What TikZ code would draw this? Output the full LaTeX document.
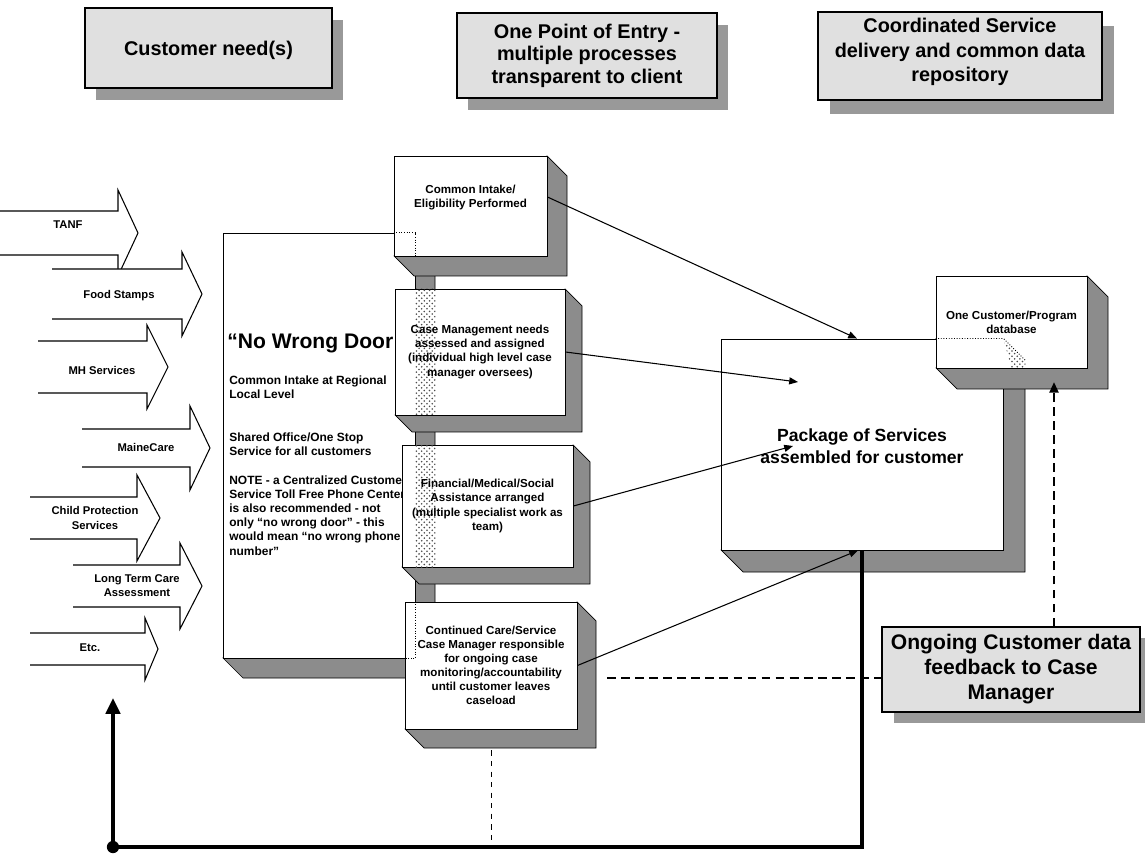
\documentclass[tikz,border=0pt]{standalone}
\usepackage{fontspec}
\setmainfont{Liberation Sans}
\usetikzlibrary{arrows.meta, calc, fit, patterns}

% 3D bevel under a box: top-left corner, bottom-right corner, depth
\newcommand{\bevelshade}[3]{%
    \filldraw[bevel] (#2 |- #1) -- ($(#2 |- #1)+(#3,#3)$) -- ($(#2)+(#3,#3)$)
        -- ($(#1 |- #2)+(#3,#3)$) -- (#1 |- #2) -- cycle;}

\begin{document}
\begin{tikzpicture}[
    x=0.02cm, y=-0.02cm,
    header/.style={draw,line width=0.6pt,fill=black!12,inner sep=0pt},
    headtext/.style={align=center,inner sep=0pt,font=\bfseries\fontsize{11.3}{12.8}\selectfont},
    flatshade/.style={fill=black!40},
    bevel/.style={fill=black!45,draw=black,line width=0.4pt},
    svcarrow/.style={draw,fill=white,line width=0.6pt},
    svclabel/.style={align=center,inner sep=0pt,font=\bfseries\fontsize{6.4}{8}\selectfont},
    stepbox/.style={draw,fill=white,line width=0.5pt,inner sep=0pt},
    steptext/.style={align=center,inner sep=0pt,font=\bfseries\fontsize{6.6}{8}\selectfont},
    note/.style={align=left,inner sep=0pt,font=\bfseries\fontsize{6.8}{8.1}\selectfont},
    seethru/.style={densely dotted,line width=0.5pt},
    dots/.style={pattern=crosshatch dots,pattern color=black!70},
    link/.style={line width=0.6pt,-{Triangle[length=5pt,width=4pt]}},
    feed/.style={line width=1.4pt,dash pattern=on 5pt off 3pt},
    loopback/.style={line width=2.4pt}
]

\useasboundingbox (0,0) rectangle (1145,857);

% =========================
% HEADERS
% =========================
\coordinate (n1) at (85,8);    \coordinate (n2) at (332,88);
\coordinate (e1) at (457,13);  \coordinate (e2) at (717,98);
\coordinate (d1) at (818,12);  \coordinate (d2) at (1102,100);

\fill[flatshade] ($(n1)+(11,12)$) rectangle ($(n2)+(11,12)$);
\fill[flatshade] ($(e1)+(11,12)$) rectangle ($(e2)+(11,12)$);
\fill[flatshade] ($(d1)+(12,14)$) rectangle ($(d2)+(12,14)$);

\node[header,fit=(n1)(n2)] (needs) {};
\node[header,fit=(e1)(e2)] (entry) {};
\node[header,fit=(d1)(d2)] (delivery) {};

\node[headtext] (needstext) at ([yshift=-0.04cm]needs.center) {Customer need(s)};
\node[headtext] (entrytext) at (entry.center) {One Point of Entry -\\multiple processes\\transparent to client};
\node[headtext,font=\bfseries\fontsize{11.3}{13.8}\selectfont] (deliverytext) at ([yshift=0.08cm]delivery.center)
    {Coordinated Service\\delivery and common data\\repository};

% =========================
% SERVICE ARROWS
% =========================
\foreach \xa/\xb/\xc/\cy/\sh/\hh/\lx/\ly/\nm/\txt in {
    0/118/138/233/22/43/68/225/tanf/TANF,
    52/182/202/294/25/42/119/296/food/Food Stamps,
    38/147/168/367/26/42/102/370/mh/MH Services,
    82/190/210/448/19/42/146/447/maine/MaineCare,
    30/137/160/518/21/43/95/518/child/{Child Protection\\Services},
    73/180/202/586/21/43/137/586/ltc/{Long Term Care\\Assessment},
    30/145/158/649/16/31/90/648/etc/Etc.}
{
    \draw[svcarrow] (\xa,\cy-\sh) -- (\xb,\cy-\sh) -- (\xb,\cy-\hh) -- (\xc,\cy)
        -- (\xb,\cy+\hh) -- (\xb,\cy+\sh) -- (\xa,\cy+\sh);
    \node[svclabel] (\nm) at (\lx,\ly) {\txt};
}

% =========================
% NO WRONG DOOR
% =========================
\coordinate (w1) at (223,233); \coordinate (w2) at (415,658);
\bevelshade{w1}{w2}{20}
\node[stepbox,fit=(w1)(w2)] (nwd) {};

\node[anchor=base west,inner sep=0pt,font=\bfseries\fontsize{12}{14}\selectfont]
    (nwdtitle) at (227,349) {``No Wrong Door};
\node[note,anchor=north west] (nwdintake) at (229,375) {Common Intake at Regional\\Local Level};
\node[note,anchor=north west] (nwdoffice) at (229,432) {Shared Office/One Stop\\Service for all customers};
\node[note,anchor=north west] (nwdnote) at (229,475)
    {NOTE - a Centralized Customer\\Service Toll Free Phone Center\\is also recommended - not\\
     only ``no wrong door'' - this\\would mean ``no wrong phone\\number''};

% =========================
% ENTRY STEPS
% =========================
\coordinate (a1) at (394,156); \coordinate (a2) at (547,256);
\coordinate (b1) at (395,289); \coordinate (b2) at (565,415);
\coordinate (c1) at (402,445); \coordinate (c2) at (573,567);
\coordinate (f1) at (405,602); \coordinate (f2) at (577,729);

\bevelshade{a1}{a2}{20}
\node[stepbox,fit=(a1)(a2)] (intake) {};
\bevelshade{b1}{b2}{17}
\node[stepbox,fit=(b1)(b2)] (casemgmt) {};
\bevelshade{c1}{c2}{17}
\node[stepbox,fit=(c1)(c2)] (finance) {};
\bevelshade{f1}{f2}{19}
\node[stepbox,fit=(f1)(f2)] (contcare) {};

% hidden edges of the big box
\draw[seethru] (intake.west |- nwd.north) -- (nwd.north east) -- (nwd.east |- intake.south);
\fill[dots] (nwd.east |- casemgmt.north) rectangle ($(nwd.east |- casemgmt.south)+(20,0)$);
\fill[dots] (nwd.east |- finance.north) rectangle ($(nwd.east |- finance.south)+(20,0)$);
\draw[seethru] (nwd.east |- contcare.north) -- (nwd.south east) -- (contcare.west |- nwd.south);

\node[steptext] (intaketext) at ([yshift=0.16cm]intake.center) {Common Intake/\\Eligibility Performed};
\node[steptext] (casemgmttext) at (casemgmt.center)
    {Case Management needs\\assessed and assigned\\(individual high level case\\manager oversees)};
\node[steptext] (financetext) at (finance.center)
    {Financial/Medical/Social\\Assistance arranged\\(multiple specialist work as\\team)};
\node[steptext] (contcaretext) at (contcare.center)
    {Continued Care/Service\\Case Manager responsible\\for ongoing case\\monitoring/accountability\\until customer leaves\\caseload};

% =========================
% PACKAGE AND DATABASE
% =========================
\coordinate (p1) at (721,339); \coordinate (p2) at (1003,550);
\coordinate (g1) at (936,276); \coordinate (g2) at (1087,368);

\bevelshade{p1}{p2}{22}
\node[stepbox,fit=(p1)(p2)] (package) {};
\node[steptext,font=\bfseries\fontsize{10}{12.5}\selectfont] (packagetext) at ([yshift=-0.03cm]package.center)
    {Package of Services\\assembled for customer};
\bevelshade{g1}{g2}{21}
\node[stepbox,fit=(g1)(g2)] (database) {};
\node[steptext] (databasetext) at (database.center) {One Customer/Program\\database};

\fill[dots] (package.north east) -- ++(22,22) |- (database.south) -- cycle;
\draw[seethru] (database.west |- package.north) -- (package.north east) -- ++(22,22);

% =========================
% FEEDBACK
% =========================
\coordinate (k1) at (882,627); \coordinate (k2) at (1140,712);
\fill[flatshade] ($(k1)+(12,11)$) rectangle ($(k2)+(12,11)$);
\node[header,fit=(k1)(k2)] (feedback) {};
\node[headtext,font=\bfseries\fontsize{12}{14.2}\selectfont] (feedbacktext) at (feedback.center)
    {Ongoing Customer data\\feedback to Case\\Manager};

% =========================
% CONNECTORS
% =========================
\coordinate (pkgB) at (798,382);
\coordinate (pkgC) at (793,446);
\coordinate (dbtip) at (1054,382);
\coordinate (fbleft) at (607,678);
\coordinate (loopend) at (113,847);

\draw[link] ([yshift=0.18cm]intake.east) -- ([xshift=-0.1cm]package.north);
\draw[link] (casemgmt.east) -- (pkgB);
\draw[link] (finance.east) -- (pkgC);
\draw[link] (contcare.east) -- ([xshift=-0.08cm]package.south);

\draw[feed,-{Triangle[length=6pt,width=5pt]}] (feedback.north -| dbtip) -- (dbtip);
\draw[feed] (fbleft) -- (fbleft -| feedback.west);

\draw[loopback,-{Triangle[length=9pt,width=8pt]}]
    (package.south) -- (package.south |- loopend) -- (loopend) -- ++(0,-149);
\fill (loopend) circle (3.5pt);
\draw[dashed,line width=0.5pt] ([yshift=-0.42cm]contcare.south) -- (contcare.south |- loopend);

\end{tikzpicture}
\end{document}
